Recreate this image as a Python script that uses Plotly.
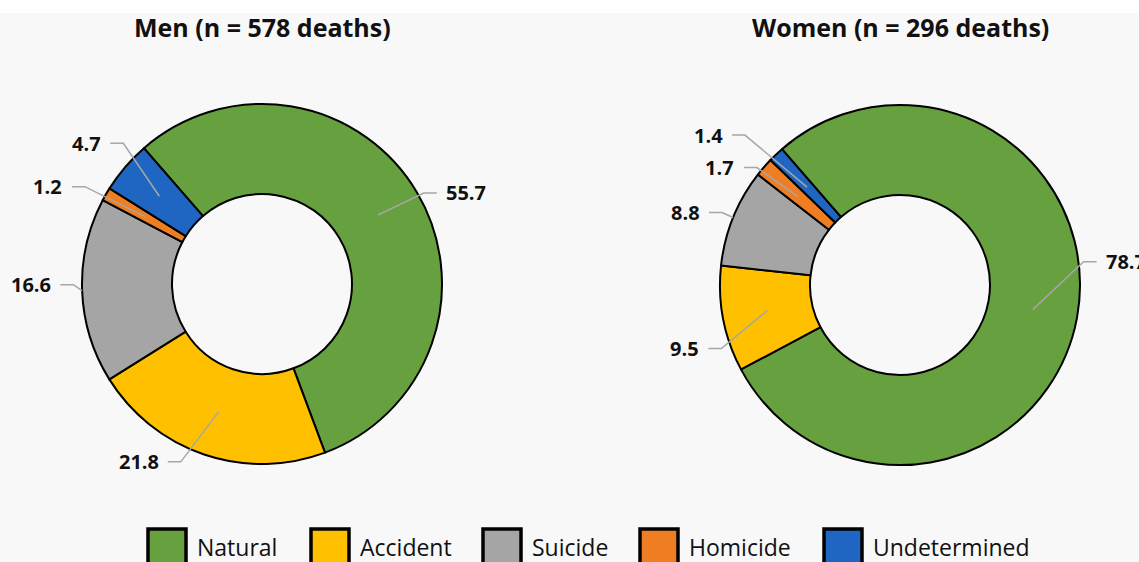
import math
import plotly.graph_objects as go

# Data (percent of deaths)
categories = ["Natural", "Accident", "Suicide", "Homicide", "Undetermined"]
men_values = [55.7, 21.8, 16.6, 1.2, 4.7]
women_values = [78.7, 9.5, 8.8, 1.7, 1.4]
men_title = "Men (n = 578 deaths)"
women_title = "Women (n = 296 deaths)"

colors = ["#67a03f", "#ffc000", "#a5a5a5", "#ef7d22", "#1f66c2"]

W, H = 1139, 562
R = 180          # outer radius in px
HOLE = 0.5
ROTATION = -41   # first slice starts 41 deg left of 12 o'clock

# pie centres in px
men_center = (262, 284)
women_center = (900, 285)

# label placement: text offset (px) from the leader-line tip, and where the tip sits
# ("mid" = middle of the ring, "out" = outer edge)
men_offsets = [(88, -22), (-80, 50), (-51, -6), (-97, -30), (-73, -53)]
men_tips = ["mid", "mid", "out", "mid", "mid"]
women_offsets = [(93, -48), (-83, 38), (-48, -5), (-78, -29), (-99, -52)]
women_tips = ["mid", "mid", "out", "mid", "mid"]

# legend box left edges (px)
legend_x = [148, 311, 483, 640, 824]


def px2paper(x, y):
    return x / W, 1 - y / H


def domain(center):
    cx, cy = center
    return dict(x=[(cx - R) / W, (cx + R) / W],
                y=[1 - (cy + R) / H, 1 - (cy - R) / H])


def data_labels(values, center, offsets, tips):
    total = sum(values)
    start = ROTATION
    anns, shapes = [], []
    for v, (ox, oy), tip in zip(values, offsets, tips):
        sweep = 360 * v / total
        mid = math.radians(start + sweep / 2)
        start += sweep
        r = R * (1 + HOLE) / 2 if tip == "mid" else R
        tx = center[0] + r * math.sin(mid)
        ty = center[1] - r * math.cos(mid)
        cx, cy = tx + ox, ty + oy
        txt = f"{v}"
        hw = len(txt) * 5.3
        side = 1 if ox < 0 else -1       # line leaves the text towards the pie
        near = cx + side * (hw + 8)
        elbow = near + side * 13
        p = [px2paper(near, cy), px2paper(elbow, cy), px2paper(tx, ty)]
        path = "M {} {} L {} {} L {} {}".format(*[c for pt in p for c in pt])
        shapes.append(dict(type="path", xref="paper", yref="paper", path=path,
                           line=dict(color="#a6a6a6", width=1.5)))
        x, y = px2paper(cx, cy)
        anns.append(dict(x=x, y=y, xref="paper", yref="paper",
                         xanchor="center", yanchor="middle",
                         text=f"<b>{txt}</b>", showarrow=False,
                         font=dict(size=20, color="#111111")))
    return anns, shapes


fig = go.Figure()

for values, center in [(men_values, men_center), (women_values, women_center)]:
    fig.add_trace(go.Pie(
        labels=categories,
        values=values,
        hole=HOLE,
        sort=False,
        direction="clockwise",
        rotation=ROTATION,
        textinfo="none",
        hoverinfo="label+value",
        marker=dict(colors=colors, line=dict(color="black", width=2)),
        domain=domain(center),
        showlegend=False,
    ))

annotations, shapes = [], []
shapes.append(dict(type="rect", xref="paper", yref="paper",
                   x0=0, x1=1, y0=1 - 13 / H, y1=1,
                   fillcolor="white", line=dict(width=0), layer="below"))
for vals, c, offs, tips in [(men_values, men_center, men_offsets, men_tips),
                            (women_values, women_center, women_offsets, women_tips)]:
    a, s = data_labels(vals, c, offs, tips)
    annotations += a
    shapes += s

for title, center in [(men_title, men_center), (women_title, women_center)]:
    x, y = px2paper(center[0], 27)
    annotations.append(dict(x=x, y=y, xref="paper", yref="paper",
                            xanchor="center", yanchor="middle",
                            text=f"<b>{title}</b>", showarrow=False,
                            font=dict(size=25, color="#111111")))

# legend: large outlined boxes like the original
for name, color, lx in zip(categories, colors, legend_x):
    x0, y0 = px2paper(lx, 529)
    x1, _ = px2paper(lx + 38, 0)
    shapes.append(dict(type="rect", xref="paper", yref="paper",
                       x0=x0, x1=x1, y0=-0.05, y1=y0,
                       fillcolor=color, line=dict(color="black", width=3.5)))
    tx, ty = px2paper(lx + 47, 547)
    annotations.append(dict(x=tx, y=ty, xref="paper", yref="paper",
                            xanchor="left", yanchor="middle",
                            text=name, showarrow=False,
                            font=dict(size=23, color="#111111")))

fig.update_layout(
    width=W, height=H,
    margin=dict(l=0, r=0, t=0, b=0),
    paper_bgcolor="#f8f8f8",
    font=dict(family="Open Sans, Lato, sans-serif", color="#111111"),
    annotations=annotations,
    shapes=shapes,
    showlegend=False,
)

fig.write_html("out.html",
               config={"displayModeBar": False},
               post_script="document.body.style.margin='0';"
                           "document.body.style.overflow='hidden';")
